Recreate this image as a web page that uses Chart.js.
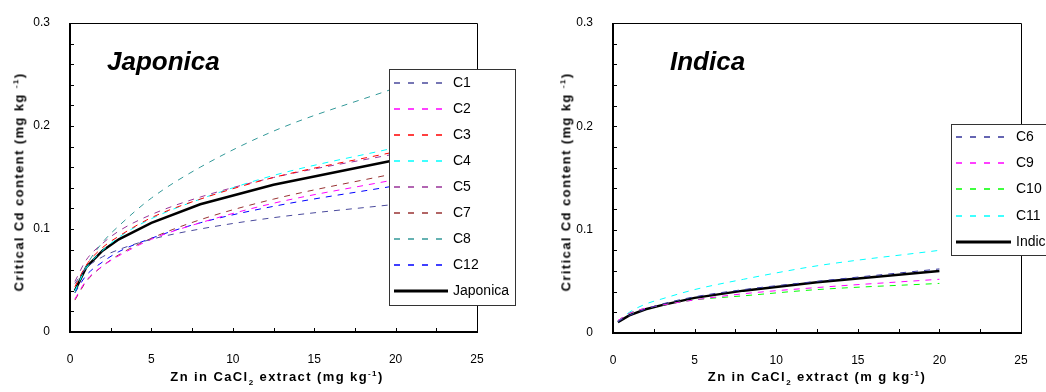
<!DOCTYPE html>
<html>
<head>
<meta charset="utf-8">
<script src="https://cdn.jsdelivr.net/npm/chart.js@4/dist/chart.umd.min.js"></script>
<style>
  body { margin: 0; background: #fff; width: 1046px; height: 392px; position: relative; overflow: hidden;
         font-family: "Liberation Sans", Arial, sans-serif; }
  canvas { position: absolute; top: 0; }
  .name { position: absolute; font-weight: bold; font-style: italic; font-size: 26px; line-height: 26px; }
  .ytitle { position: absolute; font-weight: bold; font-size: 13px; letter-spacing: 1.4px; white-space: nowrap;
            transform: translate(-50%, -50%) rotate(-90deg); }
  .xtitle { position: absolute; font-weight: bold; font-size: 13px; letter-spacing: 1.4px; white-space: nowrap;
            transform: translate(-50%, -50%); }
  sup, sub { font-size: 8px; }
</style>
</head>
<body>
<canvas id="japonica" width="523" height="392" style="left:0"></canvas>
<canvas id="indica" width="523" height="392" style="left:523px"></canvas>

<div class="name" style="left:107px; top:48px">Japonica</div>
<div class="name" style="left:670px; top:48px">Indica</div>
<div class="ytitle" style="left:19px; top:182px">Critical Cd content (mg kg <sup>-1</sup>)</div>
<div class="ytitle" style="left:566px; top:182px">Critical Cd content (mg kg <sup>-1</sup>)</div>
<div class="xtitle" style="left:277px; top:378px">Zn in CaCl<sub>2</sub> extract (mg kg<sup>-1</sup>)</div>
<div class="xtitle" style="left:817px; top:378px">Zn in CaCl<sub>2</sub> extract (m g kg<sup>-1</sup>)</div>

<script>
// Zn in CaCl2 extract (mg/kg), shared x values
const zn = [0.3, 1, 2, 3, 5, 8, 12.5, 20];

// Japonica cultivars, critical Cd content (mg/kg)
const c1  = [0.047, 0.062, 0.073, 0.080, 0.090, 0.100, 0.111, 0.124];
const c2  = [0.032, 0.050, 0.064, 0.074, 0.090, 0.106, 0.125, 0.148];
const c3  = [0.044, 0.065, 0.082, 0.093, 0.111, 0.129, 0.150, 0.175];
const c4  = [0.040, 0.062, 0.079, 0.092, 0.110, 0.129, 0.152, 0.179];
const c5  = [0.049, 0.070, 0.086, 0.098, 0.114, 0.131, 0.150, 0.173];
const c7  = [0.031, 0.049, 0.064, 0.075, 0.091, 0.109, 0.129, 0.154];
const c8  = [0.038, 0.064, 0.087, 0.103, 0.130, 0.160, 0.195, 0.237];
const c12 = [0.038, 0.055, 0.068, 0.078, 0.091, 0.106, 0.122, 0.142];
const japonica = [0.040, 0.063, 0.079, 0.090, 0.106, 0.124, 0.143, 0.167];

// Indica cultivars
const c6  = [0.011, 0.017, 0.023, 0.028, 0.035, 0.042, 0.050, 0.062];
const c9  = [0.012, 0.019, 0.024, 0.027, 0.032, 0.038, 0.044, 0.052];
const c10 = [0.012, 0.019, 0.024, 0.027, 0.032, 0.036, 0.042, 0.048];
const c11 = [0.011, 0.020, 0.028, 0.033, 0.042, 0.052, 0.065, 0.080];
const indica = [0.0105, 0.017, 0.023, 0.027, 0.034, 0.041, 0.049, 0.060];

Chart.defaults.font.family = '"Liberation Sans", Arial, sans-serif';
Chart.defaults.color = '#000';

const dashed = (label, values, color) => ({
    label,
    data: values.map((v, i) => ({ x: zn[i], y: v })),
    borderColor: color,
    borderWidth: 1,
    borderDash: [6, 6],
    pointRadius: 0,
    cubicInterpolationMode: 'monotone',
});

const solid = (label, values) => ({
    label,
    data: values.map((v, i) => ({ x: zn[i], y: v })),
    borderColor: '#000',
    borderWidth: 2.5,
    pointRadius: 0,
    tension: 0,
});

// frame, inward tick marks and the boxed legend
const decorations = {
    id: 'decorations',
    afterDraw(chart, args, opts) {
        const { ctx, chartArea: a, scales: { x, y } } = chart;
        const l = Math.round(a.left), r = Math.round(a.right);
        const t = Math.round(a.top), b = Math.round(a.bottom);
        ctx.save();
        ctx.strokeStyle = '#000';
        ctx.lineWidth = 1;
        ctx.beginPath();
        x.ticks.forEach(tk => {
            const px = Math.round(x.getPixelForValue(tk.value)) + 0.5;
            ctx.moveTo(px, b);
            ctx.lineTo(px, b - 4);
        });
        y.ticks.forEach(tk => {
            const py = Math.round(y.getPixelForValue(tk.value)) + 0.5;
            ctx.moveTo(l, py);
            ctx.lineTo(l + 4, py);
        });
        // thin top and right edges
        ctx.moveTo(l, t + 0.5);
        ctx.lineTo(r + 0.5, t + 0.5);
        ctx.lineTo(r + 0.5, b);
        ctx.stroke();
        // heavier left and bottom axes
        ctx.lineWidth = 2;
        ctx.beginPath();
        ctx.moveTo(l, t);
        ctx.lineTo(l, b);
        ctx.lineTo(r + 1, b);
        ctx.stroke();

        // legend
        const L = opts;
        ctx.lineWidth = 1;
        ctx.fillStyle = '#fff';
        ctx.fillRect(L.left, L.top, L.width, L.height);
        ctx.strokeStyle = '#333';
        ctx.strokeRect(L.left + 0.5, L.top + 0.5, L.width, L.height);
        ctx.font = '14px "Liberation Sans", Arial, sans-serif';
        ctx.textBaseline = 'middle';
        chart.data.datasets.forEach((ds, i) => {
            const cy = Math.round(L.firstRow + i * L.rowH);
            ctx.strokeStyle = ds.borderColor;
            ctx.lineWidth = ds.borderDash ? 1.6 : 3;
            ctx.setLineDash(ds.borderDash ? [6, 8] : []);
            ctx.beginPath();
            ctx.moveTo(L.lineX, cy);
            ctx.lineTo(L.lineX + L.lineLen, cy);
            ctx.stroke();
            ctx.setLineDash([]);
            ctx.fillStyle = '#000';
            ctx.fillText(ds.label, L.textX, cy);
        });
        ctx.restore();
    }
};

function makeChart(id, datasets, yWidth, padRight, xHeight, legend) {
    return new Chart(document.getElementById(id), {
        type: 'line',
        data: { datasets },
        options: {
            responsive: false,
            animation: false,
            layout: { padding: { left: 0, right: padRight, top: 23, bottom: 0 } },
            plugins: {
                legend: { display: false },
                tooltip: { enabled: false },
                decorations: legend,
            },
            scales: {
                x: {
                    type: 'linear',
                    min: 0,
                    max: 25,
                    grid: { display: false },
                    border: { display: false },
                    afterFit: s => { s.height = xHeight; },
                    ticks: {
                        stepSize: 2.5,
                        autoSkip: false,
                        maxRotation: 0,
                        padding: 12,
                        font: { size: 12 },
                        callback: v => (v % 5 === 0 ? String(v) : ''),
                    },
                },
                y: {
                    min: 0,
                    max: 0.3,
                    grid: { display: false },
                    border: { display: false },
                    afterFit: s => { s.width = yWidth; },
                    ticks: {
                        stepSize: 0.02,
                        autoSkip: false,
                        padding: 12,
                        font: { size: 12 },
                        callback: v => {
                            const t = Math.round(v * 10);
                            return Math.abs(v * 10 - t) < 1e-6 ? String(t / 10) : '';
                        },
                    },
                },
            },
        },
        plugins: [decorations],
    });
}

makeChart('japonica', [
    dashed('C1', c1, '#4a4a9c'),
    dashed('C2', c2, '#ff00ff'),
    dashed('C3', c3, '#ff0000'),
    dashed('C4', c4, '#00ffff'),
    dashed('C5', c5, '#993399'),
    dashed('C7', c7, '#993333'),
    dashed('C8', c8, '#339999'),
    dashed('C12', c12, '#0000ff'),
    solid('Japonica', japonica),
], 70, 46, 60, {
    left: 389, top: 69, width: 126, height: 236,
    firstRow: 83, rowH: 26, lineX: 394, lineLen: 54, textX: 453,
});

makeChart('indica', [
    dashed('C6', c6, '#333399'),
    dashed('C9', c9, '#ff00ff'),
    dashed('C10', c10, '#00ff00'),
    dashed('C11', c11, '#00ffff'),
    solid('Indica', indica),
], 90, 25, 59, {
    left: 428, top: 124, width: 120, height: 131,
    firstRow: 137, rowH: 26.2, lineX: 433, lineLen: 55, textX: 493,
});
</script>
</body>
</html>
